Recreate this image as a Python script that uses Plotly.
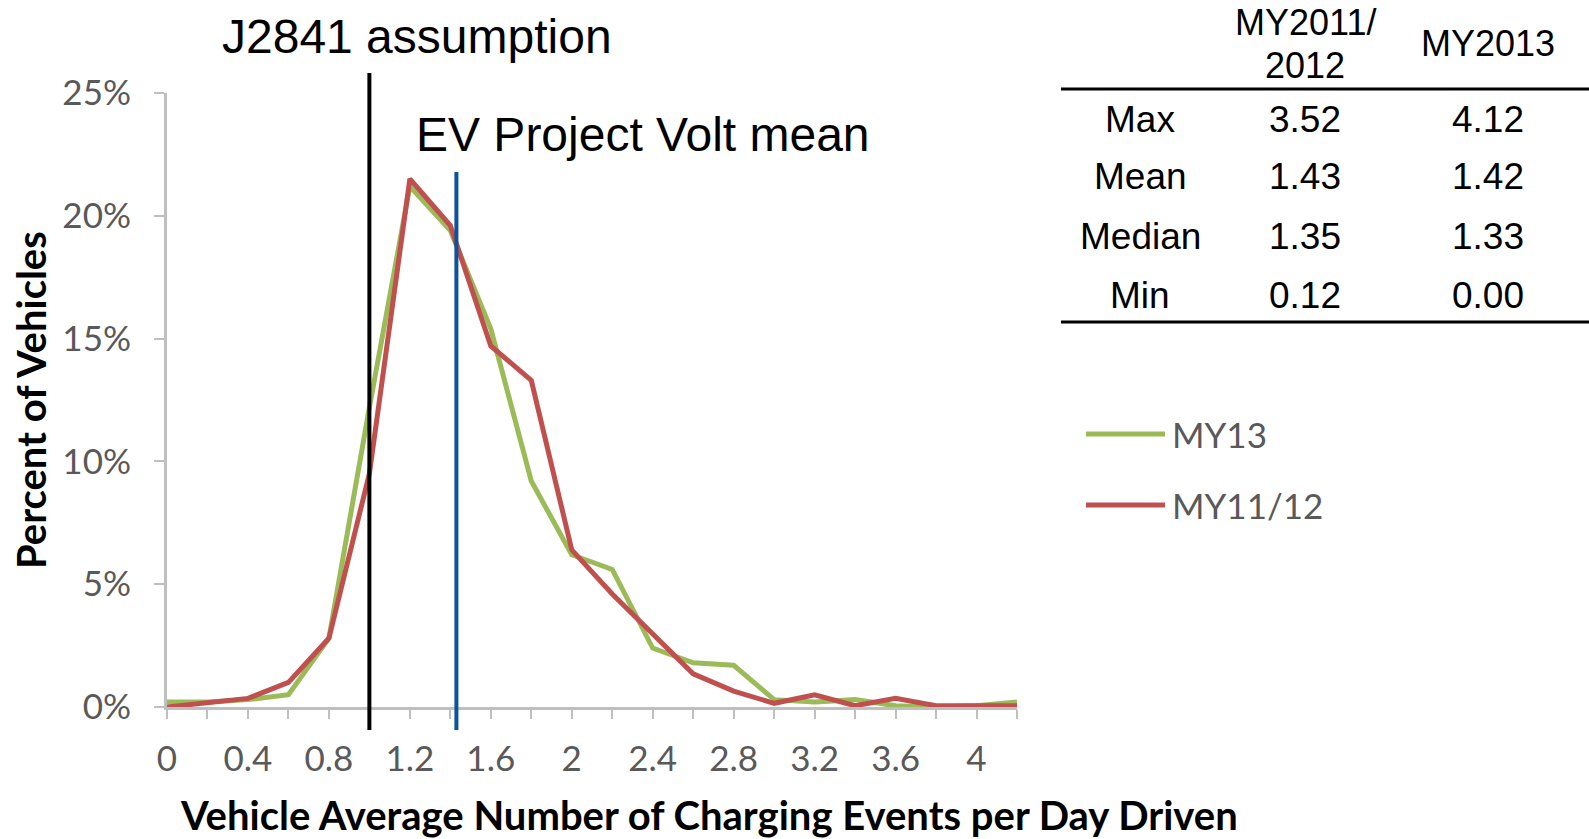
import plotly.graph_objects as go

# ---- data ----
x_vals = [0, 0.2, 0.4, 0.6, 0.8, 1.0, 1.2, 1.4, 1.6, 1.8, 2.0, 2.2, 2.4, 2.6, 2.8,
          3.0, 3.2, 3.4, 3.6, 3.8, 4.0, 4.2]
my13 = [0.2, 0.2, 0.3, 0.5, 2.8, 12.2, 21.2, 19.4, 15.4, 9.2, 6.2, 5.6, 2.4, 1.8, 1.7,
        0.3, 0.2, 0.3, 0.05, 0.0, 0.05, 0.2]
my1112 = [0.0, 0.15, 0.35, 1.0, 2.8, 9.5, 21.5, 19.6, 14.7, 13.3, 6.4, 4.6, 3.0, 1.35, 0.65,
          0.15, 0.5, 0.05, 0.35, 0.05, 0.05, 0.05]
series_names = ["MY13", "MY11/12"]
series_colors = ["#9bbb59", "#c0504d"]

x_tickvals = [0, 0.2, 0.4, 0.6, 0.8, 1.0, 1.2, 1.4, 1.6, 1.8, 2.0, 2.2, 2.4, 2.6, 2.8,
              3.0, 3.2, 3.4, 3.6, 3.8, 4.0, 4.2]
x_ticktext = ["0", "", "0.4", "", "0.8", "", "1.2", "", "1.6", "", "2", "", "2.4", "",
              "2.8", "", "3.2", "", "3.6", "", "4", ""]

j2841_value = 1.0
volt_mean_value = 1.43

table_header_lines = [["MY2011/", "2012"], ["MY2013"]]
table_rows = ["Max", "Mean", "Median", "Min"]
table_my1112 = ["3.52", "1.43", "1.35", "0.12"]
table_my2013 = ["4.12", "1.42", "1.33", "0.00"]

# ---- figure ----
W, H = 1589, 839
# plot area in page pixels
L, R, T, B = 167, 1017, 93, 707
pw, ph = R - L, B - T


def px(xp):
    return (xp - L) / pw


def py(yp):
    return (B - yp) / ph


fig = go.Figure()
for ys, name, col in [(my13, series_names[0], series_colors[0]),
                      (my1112, series_names[1], series_colors[1])]:
    fig.add_trace(go.Scatter(x=x_vals, y=[v / 100 for v in ys], mode="lines", name=name,
                             line=dict(color=col, width=5), showlegend=False,
                             cliponaxis=False))

calibri = "Lato, Carlito, Calibri, sans-serif"
arial = "Liberation Sans, Arial, sans-serif"

fig.update_layout(
    width=W, height=H,
    margin=dict(l=L, r=W - R, t=T, b=H - B, pad=0),
    plot_bgcolor="white", paper_bgcolor="white",
    xaxis=dict(range=[0, 4.2], tickvals=x_tickvals, ticktext=x_ticktext,
               ticks="outside", ticklen=9, tickwidth=2, tickcolor="#bfbfbf",
               showline=True, linecolor="#bfbfbf", linewidth=3,
               showgrid=False, zeroline=False,
               tickfont=dict(family=calibri, size=35, color="#595959"),
               ticklabelstandoff=10),
    yaxis=dict(range=[0, 0.25], dtick=0.05, tickformat=".0%",
               ticks="outside", ticklen=10, tickwidth=2, tickcolor="#bfbfbf",
               showline=True, linecolor="#bfbfbf", linewidth=3,
               showgrid=False, zeroline=False,
               tickfont=dict(family=calibri, size=35, color="#595959"),
               ticklabelstandoff=16),
)

# reference lines
fig.add_shape(type="line", xref="x", yref="paper", x0=j2841_value, x1=j2841_value,
              y0=py(730), y1=py(73), line=dict(color="black", width=4), layer="above")
fig.add_shape(type="line", xref="x", yref="paper", x0=volt_mean_value, x1=volt_mean_value,
              y0=py(730), y1=py(172), line=dict(color="#0b539b", width=4), layer="above")

ann = []
ann.append(dict(text="J2841 assumption", x=px(417), y=py(37), xref="paper", yref="paper",
                showarrow=False, font=dict(family=arial, size=48, color="black"),
                xanchor="center", yanchor="middle"))
ann.append(dict(text="EV Project Volt mean", x=px(643), y=py(134), xref="paper", yref="paper",
                showarrow=False, font=dict(family=arial, size=48, color="black"),
                xanchor="center", yanchor="middle"))
# axis titles
ann.append(dict(text="<b>Vehicle Average Number of Charging Events per Day Driven</b>",
                x=px(709), y=py(815), xref="paper", yref="paper", showarrow=False,
                font=dict(family=calibri, size=40, color="black"),
                xanchor="center", yanchor="middle"))
ann.append(dict(text="<b>Percent of Vehicles</b>", x=px(31), y=py(400), xref="paper",
                yref="paper", showarrow=False, textangle=-90,
                font=dict(family=calibri, size=40, color="black"),
                xanchor="center", yanchor="middle"))

# table
col_x = [1140, 1305, 1488]
tfont = dict(family=arial, size=36, color="black")
for cx, lines, ys in [(col_x[1], table_header_lines[0], [23, 66]),
                      (col_x[2], table_header_lines[1], [44])]:
    for txt, yy in zip(lines, ys):
        ann.append(dict(text=txt, x=px(cx), y=py(yy), xref="paper", yref="paper",
                        showarrow=False, font=tfont, xanchor="center", yanchor="middle"))
row_y = [119, 177, 236, 295]
for i, lab in enumerate(table_rows):
    for cx, txt in zip(col_x, [lab, table_my1112[i], table_my2013[i]]):
        ann.append(dict(text=txt, x=px(cx), y=py(row_y[i]), xref="paper", yref="paper",
                        showarrow=False, font=dict(family=arial, size=37, color="black"),
                        xanchor="center", yanchor="middle"))
for yl in [89, 322]:
    fig.add_shape(type="line", xref="paper", yref="paper", x0=px(1061), x1=px(1589),
                  y0=py(yl), y1=py(yl), line=dict(color="black", width=3))

# legend (manual)
leg_y = [434, 505]
for name, col, yl in zip(series_names, series_colors, leg_y):
    fig.add_shape(type="line", xref="paper", yref="paper", x0=px(1086), x1=px(1165),
                  y0=py(yl), y1=py(yl), line=dict(color=col, width=5))
    ann.append(dict(text=name, x=px(1170), y=py(yl), xref="paper", yref="paper",
                    showarrow=False, font=dict(family=calibri, size=35, color="#595959"),
                    xanchor="left", yanchor="middle"))

fig.update_layout(annotations=ann)
fig.write_html("out.html", config={"displayModeBar": False},
               post_script="document.body.style.margin='0';document.body.style.overflow='hidden';")
